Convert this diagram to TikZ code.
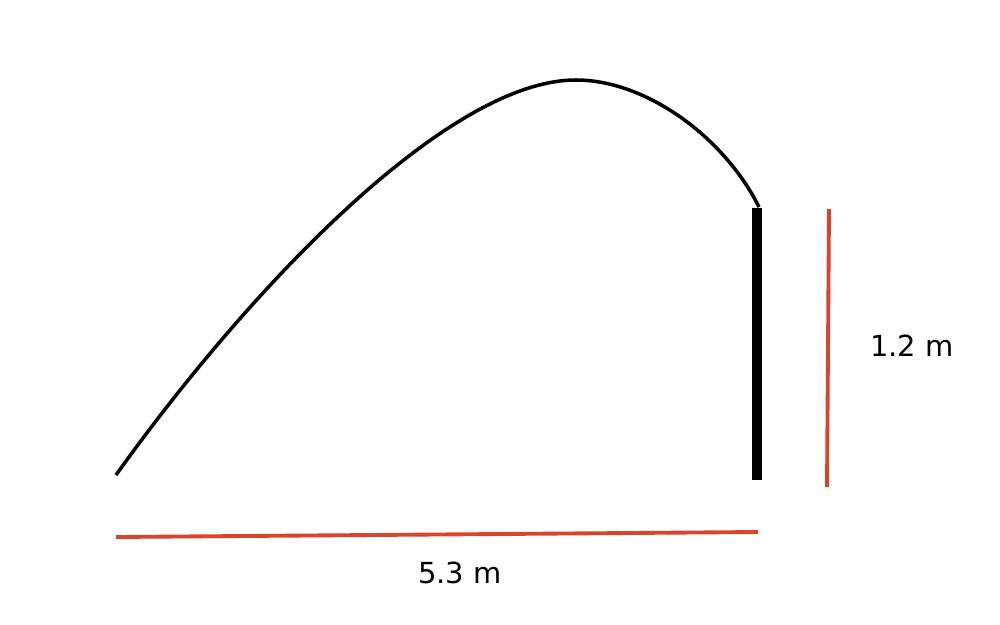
\documentclass[tikz,border=0pt]{standalone}
\usepackage{fontspec}
\setmainfont{DejaVu Sans}
\definecolor{measred}{HTML}{D9442A}

\begin{document}
\begin{tikzpicture}[x=0.02cm,y=-0.02cm,
    measure/.style={measred,line width=2.2pt},
    lbl/.style={font=\fontsize{16.5}{20}\selectfont}]
    \useasboundingbox (0,0) rectangle (1000,625);
    \coordinate (start) at (116,475);
    \coordinate (top) at (576,80);
    \coordinate (hit) at (759,207);
    \coordinate (wtop) at (757,208);
    \coordinate (wbot) at (757,480);
    % ball path
    \draw[line width=2pt] (start) .. controls (246,293) and (446,80) .. (top)
        .. controls (646,80) and (724,137) .. (hit);
    % wall
    \draw[line width=6pt] (wtop)--(wbot);
    % measures
    \coordinate (h1) at (116,537);
    \coordinate (h2) at (758,532);
    \coordinate (v1) at (829,209);
    \coordinate (v2) at (827,487);
    \draw[measure] (h1)--(h2);
    \draw[measure] (v1)--(v2);
    \node[lbl] (dist) at (460,573) {5.3 m};
    \node[lbl] (height) at (912,346) {1.2 m};
  \end{tikzpicture}
\end{document}
